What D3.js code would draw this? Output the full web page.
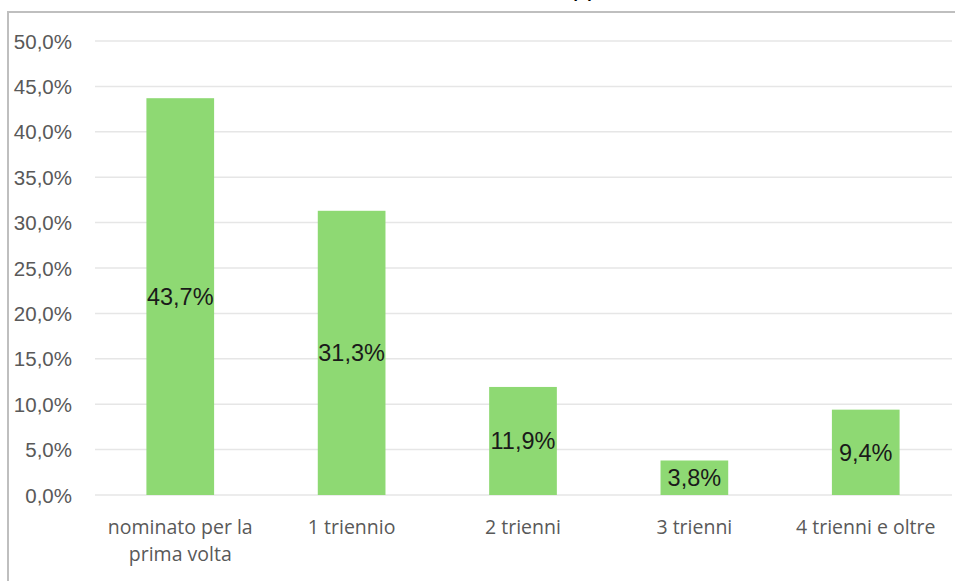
<!DOCTYPE html>
<html><head><meta charset="utf-8">
<script src="https://cdn.jsdelivr.net/npm/d3@7"></script>
<style>body{margin:0;background:#fff;}svg{display:block;}</style>
</head><body>
<svg id="chart" width="955" height="581"></svg>
<script>
const categories = [["nominato per la","prima volta"],["1 triennio"],["2 trienni"],["3 trienni"],["4 trienni e oltre"]];
const values = [43.7, 31.3, 11.9, 3.8, 9.4];
const yTicks = [0,5,10,15,20,25,30,35,40,45,50];

const svg = d3.select("#chart");
const fmt = v => d3.format(".1f")(v).replace(".", ",") + "%";

// frame
svg.append("path").attr("d","M8,581 V12 H955").attr("fill","none").attr("stroke","#bfbfbf").attr("stroke-width",2);
// clipped title remnant (only descenders visible in reference)
svg.append("text").attr("x",588).attr("y",-3).attr("text-anchor","middle")
  .attr("font-family","Lato, sans-serif").attr("font-style","italic").attr("font-size",26).attr("fill","#000").text("pp");

const x = d3.scaleBand().domain(d3.range(values.length)).range([95,951]).paddingInner(0.605).paddingOuter(0.3);
const y = d3.scaleLinear().domain([0,50]).range([495,41]);

// gridlines
svg.append("g").selectAll("line").data(yTicks).join("line")
  .attr("x1",95).attr("x2",952).attr("y1",d=>y(d)).attr("y2",d=>y(d))
  .attr("stroke","#e6e6e6").attr("stroke-width",1.5);

// y axis labels
const yAxis = d3.axisLeft(y).tickValues(yTicks).tickFormat(fmt).tickSize(0).tickPadding(0);
const ya = svg.append("g").attr("transform","translate(72,0)").call(yAxis);
ya.select(".domain").remove();
ya.selectAll("text").attr("font-family","'Liberation Sans', Arial, sans-serif").attr("font-size",20.5).attr("fill","#595959").attr("dy","0.35em");

// bars
svg.append("g").selectAll("rect").data(values).join("rect")
  .attr("x",(d,i)=>x(i)).attr("width",x.bandwidth())
  .attr("y",d=>y(d)).attr("height",d=>y(0)-y(d)).attr("fill","#8ED973");

// data labels
svg.append("g").selectAll("text").data(values).join("text")
  .attr("x",(d,i)=>x(i)+x.bandwidth()/2).attr("y",d=>(y(d)+y(0))/2+2)
  .attr("text-anchor","middle").attr("dominant-baseline","middle")
  .attr("font-family","'Liberation Sans', Arial, sans-serif").attr("font-size",23.5).attr("fill","#1a1a1a")
  .text(d=>fmt(d));

// category labels
const xa = svg.append("g");
categories.forEach((lines,i)=>{
  const cx = x(i)+x.bandwidth()/2;
  const t = xa.append("text").attr("x",cx).attr("y",534)
    .attr("text-anchor","middle").attr("font-family","'Open Sans', sans-serif").attr("font-size",19.5).attr("fill","#595959");
  lines.forEach((l,j)=>t.append("tspan").attr("x",cx).attr("dy",j?27:0).text(l));
});
</script>
</body></html>
